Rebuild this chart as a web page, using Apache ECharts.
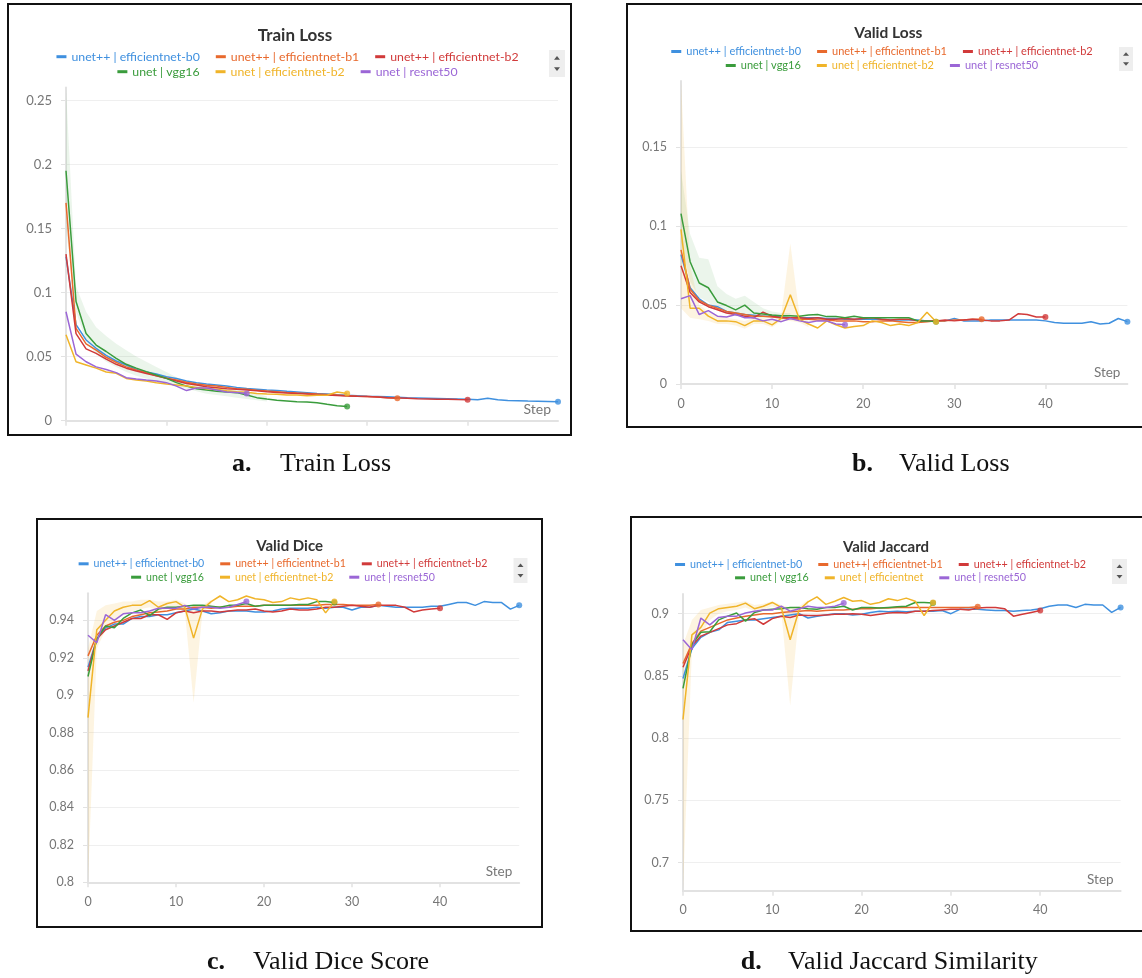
<!DOCTYPE html>
<html><head><meta charset="utf-8">
<script src="https://cdn.jsdelivr.net/npm/echarts@6/dist/echarts.min.js"></script>
<style>
html,body{margin:0;padding:0;background:#fff;width:1142px;height:978px;overflow:hidden;position:relative;}
.p{position:absolute;}
</style>
</head><body>
<div id="pa" class="p" style="left:0;top:0;width:575px;height:490px"></div>
<div id="pb" class="p" style="left:622px;top:0;width:520px;height:490px"></div>
<div id="pc" class="p" style="left:0;top:490px;width:566px;height:488px"></div>
<div id="pd" class="p" style="left:619px;top:490px;width:523px;height:488px"></div>
<script>
// ---------- names / colours ----------
const RUN_NAMES = ['unet++ | efficientnet-b0','unet++ | efficientnet-b1','unet++ | efficientnet-b2','unet | vgg16','unet | efficientnet-b2','unet | resnet50'];
const JACCARD_NAMES = ['unet++ | efficientnet-b0','unet++| efficientnet-b1','unet++ | efficientnet-b2','unet | vgg16','unet | efficientnet','unet | resnet50'];
const COLORS = ['#3f90df','#e8692d','#d13a3a','#3a9c3c','#f0b429','#9b66d6'];

// ---------- tick labels ----------
const STEP_TICKS = [0,10,20,30,40];
const TRAIN_LOSS_TICKS = [0,0.05,0.1,0.15,0.2,0.25];
const VALID_LOSS_TICKS = [0,0.05,0.1,0.15];
const DICE_TICKS = [0.8,0.82,0.84,0.86,0.88,0.9,0.92,0.94];
const JACCARD_TICKS = [0.7,0.75,0.8,0.85,0.9];

// ---------- Train Loss ----------
const trainB0 = [0.128,0.075,0.063,0.0565,0.051,0.0466,0.0435,0.040,0.038,0.0364,0.0343,0.033,0.031,0.0297,0.0286,0.0278,0.027,0.026,0.0252,0.0246,0.024,0.0235,0.0229,0.0224,0.0219,0.0213,0.0208,0.0203,0.0198,0.0195,0.019,0.0188,0.0186,0.0183,0.018,0.0178,0.0176,0.0174,0.0172,0.017,0.0168,0.0163,0.0175,0.0163,0.0157,0.0155,0.0153,0.0152,0.015,0.0148];
const trainB1 = [0.170,0.072,0.060,0.055,0.0495,0.0455,0.042,0.0396,0.0375,0.035,0.0332,0.0317,0.030,0.0286,0.0276,0.027,0.026,0.025,0.0245,0.0238,0.0232,0.0226,0.022,0.0216,0.0213,0.0208,0.0204,0.020,0.0195,0.019,0.0188,0.0185,0.018,0.0175];
const trainB2 = [0.130,0.068,0.056,0.0525,0.048,0.044,0.041,0.0388,0.0368,0.035,0.0332,0.031,0.029,0.0278,0.0265,0.0258,0.025,0.0245,0.024,0.0233,0.0226,0.0221,0.0216,0.0212,0.0208,0.0204,0.020,0.0196,0.0193,0.019,0.0188,0.0185,0.018,0.0178,0.0175,0.0172,0.017,0.0168,0.0168,0.0165,0.0163];
const trainVgg = [0.195,0.093,0.068,0.059,0.054,0.0487,0.044,0.041,0.0383,0.0357,0.033,0.0297,0.027,0.025,0.024,0.023,0.0224,0.0219,0.020,0.018,0.0169,0.016,0.0154,0.0148,0.0146,0.014,0.0128,0.0117,0.011];
const trainEffB2 = [0.067,0.046,0.0435,0.041,0.038,0.037,0.033,0.0317,0.031,0.0297,0.0286,0.0278,0.027,0.026,0.025,0.0245,0.0234,0.0226,0.0222,0.0213,0.0208,0.0206,0.020,0.020,0.0195,0.0198,0.0198,0.0224,0.0212];
const trainRes50 = [0.085,0.052,0.046,0.042,0.040,0.0375,0.0336,0.0325,0.0317,0.031,0.0297,0.027,0.0235,0.0255,0.0255,0.024,0.0224,0.022,0.0213];
const trainVggBandLow  = [0.150,0.085,0.062,0.052,0.046,0.042,0.038,0.035,0.033,0.031,0.029,0.027,0.025,0.023,0.021,0.020,0.019,0.018,0.017,0.016,0.015];
const trainVggBandHigh = [0.259,0.105,0.085,0.073,0.066,0.060,0.055,0.050,0.046,0.042,0.038,0.034,0.031,0.028,0.027,0.026,0.025,0.024,0.023,0.021,0.019];

// ---------- Valid Loss ----------
const validB0 = [0.082,0.061,0.054,0.050,0.049,0.046,0.045,0.044,0.0435,0.043,0.043,0.0425,0.042,0.042,0.042,0.042,0.0415,0.0415,0.041,0.041,0.041,0.041,0.041,0.0405,0.0405,0.0405,0.0405,0.040,0.040,0.040,0.0415,0.040,0.040,0.040,0.0405,0.0405,0.0405,0.0405,0.0405,0.0405,0.040,0.039,0.0385,0.0385,0.0385,0.0395,0.038,0.0385,0.0415,0.0395];
const validB1 = [0.085,0.060,0.053,0.050,0.048,0.046,0.045,0.044,0.043,0.043,0.0425,0.042,0.0415,0.041,0.041,0.0405,0.0405,0.040,0.040,0.040,0.0395,0.0395,0.040,0.040,0.0395,0.039,0.039,0.0395,0.040,0.040,0.0405,0.0405,0.041,0.041];
const validB2 = [0.075,0.058,0.052,0.049,0.047,0.045,0.044,0.043,0.042,0.0455,0.043,0.042,0.042,0.042,0.0415,0.042,0.041,0.041,0.0415,0.041,0.0415,0.042,0.041,0.0405,0.041,0.041,0.040,0.040,0.040,0.0405,0.040,0.0405,0.041,0.0405,0.040,0.040,0.0405,0.0445,0.044,0.0425,0.0425];
const validVgg = [0.108,0.0775,0.064,0.061,0.052,0.0497,0.047,0.050,0.045,0.0444,0.0437,0.0433,0.0433,0.043,0.0437,0.044,0.0427,0.0427,0.042,0.043,0.042,0.042,0.042,0.042,0.042,0.042,0.040,0.040,0.0395];
const validEffB2 = [0.098,0.048,0.048,0.043,0.040,0.040,0.0395,0.037,0.040,0.040,0.0375,0.0415,0.0565,0.041,0.038,0.0355,0.040,0.0375,0.0355,0.0365,0.037,0.040,0.039,0.037,0.038,0.037,0.039,0.0455,0.0395];
const validRes50 = [0.054,0.056,0.044,0.0465,0.043,0.0425,0.044,0.042,0.042,0.040,0.041,0.0395,0.0415,0.040,0.039,0.040,0.040,0.038,0.0375];
const validVggBandLow  = [0.090,0.065,0.055,0.052,0.047,0.045,0.043,0.043,0.042,0.042,0.042,0.041,0.041];
const validVggBandHigh = [0.135,0.095,0.080,0.079,0.062,0.057,0.054,0.056,0.052,0.048,0.046,0.045,0.045];
const validEffBandLow  = [0.048,0.042,0.041,0.040,0.038,0.038,0.037,0.035,0.038,0.038,0.036,0.040,0.040,0.039,0.036];
const validEffBandHigh = [0.191,0.075,0.050,0.046,0.043,0.042,0.041,0.040,0.042,0.042,0.040,0.044,0.089,0.044,0.040];

// ---------- Valid Dice ----------
const diceB0 = [0.915,0.930,0.936,0.938,0.938,0.941,0.942,0.942,0.943,0.943,0.944,0.945,0.946,0.945,0.9435,0.944,0.945,0.945,0.945,0.9445,0.9445,0.945,0.946,0.9465,0.9465,0.9465,0.947,0.9465,0.947,0.947,0.9455,0.947,0.947,0.948,0.9475,0.947,0.947,0.947,0.947,0.9475,0.9475,0.9485,0.9495,0.9495,0.948,0.950,0.9495,0.9495,0.946,0.948];
const diceB1 = [0.921,0.932,0.937,0.939,0.940,0.942,0.943,0.944,0.9445,0.945,0.946,0.946,0.947,0.947,0.9465,0.947,0.947,0.9475,0.9475,0.9475,0.948,0.948,0.948,0.948,0.948,0.948,0.948,0.9485,0.9485,0.9485,0.948,0.948,0.948,0.9485];
const diceB2 = [0.913,0.930,0.935,0.937,0.939,0.941,0.941,0.943,0.943,0.9405,0.944,0.945,0.944,0.945,0.945,0.9445,0.945,0.9455,0.9455,0.946,0.945,0.9445,0.945,0.946,0.9455,0.9455,0.946,0.947,0.947,0.9475,0.948,0.9475,0.947,0.948,0.948,0.948,0.947,0.9445,0.9455,0.946,0.9465];
const diceVgg = [0.910,0.930,0.937,0.936,0.941,0.944,0.9455,0.9425,0.946,0.947,0.947,0.9475,0.948,0.948,0.9475,0.947,0.948,0.948,0.949,0.9475,0.948,0.948,0.948,0.948,0.9485,0.9485,0.950,0.950,0.9495];
const diceEffB2 = [0.888,0.935,0.940,0.945,0.947,0.948,0.948,0.9505,0.947,0.949,0.950,0.947,0.9305,0.946,0.950,0.953,0.950,0.951,0.953,0.9515,0.951,0.9495,0.950,0.952,0.951,0.952,0.951,0.944,0.950];
const diceRes50 = [0.932,0.928,0.943,0.940,0.9435,0.944,0.944,0.945,0.9465,0.9465,0.9465,0.948,0.946,0.947,0.947,0.9465,0.947,0.9485,0.950];
const diceEffBandLow  = [0.800,0.925,0.935,0.940,0.943,0.945,0.946,0.947,0.945,0.946,0.947,0.945,0.896,0.944,0.948];
const diceEffBandHigh = [0.925,0.945,0.948,0.949,0.950,0.950,0.951,0.951,0.950,0.950,0.951,0.949,0.946,0.948,0.951];

// ---------- Valid Jaccard ----------
const jacB0 = [0.848,0.872,0.881,0.885,0.887,0.893,0.894,0.895,0.895,0.896,0.897,0.898,0.899,0.900,0.8965,0.898,0.899,0.900,0.900,0.899,0.8995,0.901,0.902,0.9015,0.902,0.9015,0.902,0.902,0.902,0.9025,0.900,0.9035,0.9035,0.9035,0.903,0.9025,0.9025,0.902,0.9025,0.903,0.904,0.906,0.907,0.907,0.905,0.9075,0.907,0.907,0.901,0.905];
const jacB1 = [0.860,0.876,0.886,0.889,0.892,0.895,0.8965,0.898,0.899,0.900,0.900,0.901,0.9015,0.902,0.9025,0.902,0.9025,0.903,0.903,0.9035,0.904,0.904,0.9045,0.9045,0.905,0.905,0.905,0.905,0.905,0.905,0.905,0.905,0.905,0.9055];
const jacB2 = [0.857,0.874,0.882,0.885,0.888,0.891,0.892,0.895,0.896,0.8915,0.896,0.898,0.897,0.899,0.8985,0.8985,0.899,0.8995,0.8995,0.900,0.8995,0.8985,0.8995,0.9005,0.901,0.9005,0.902,0.902,0.9025,0.903,0.9035,0.9035,0.903,0.9045,0.905,0.905,0.904,0.898,0.8995,0.901,0.9025];
const jacVgg = [0.840,0.875,0.885,0.8855,0.895,0.898,0.9005,0.894,0.901,0.903,0.9035,0.904,0.905,0.905,0.904,0.9035,0.905,0.905,0.906,0.903,0.905,0.905,0.9045,0.905,0.9055,0.906,0.909,0.909,0.9085];
const jacEff = [0.815,0.883,0.889,0.9005,0.904,0.905,0.906,0.9085,0.904,0.906,0.909,0.905,0.879,0.903,0.9095,0.9135,0.9075,0.910,0.913,0.910,0.9105,0.9075,0.909,0.912,0.9105,0.9125,0.910,0.8985,0.909];
const jacRes50 = [0.879,0.871,0.8965,0.891,0.897,0.898,0.898,0.9005,0.902,0.903,0.903,0.906,0.902,0.904,0.906,0.905,0.905,0.906,0.9085];
const jacEffBandLow  = [0.678,0.872,0.882,0.895,0.900,0.902,0.903,0.905,0.902,0.903,0.906,0.902,0.826,0.900,0.906];
const jacEffBandHigh = [0.875,0.895,0.903,0.905,0.907,0.908,0.909,0.910,0.907,0.908,0.910,0.907,0.905,0.906,0.911];

// ---------- builder ----------
const FONT = 'Lato';
const SERIF = '"Liberation Serif", "Times New Roman", serif';
const GREEN_BAND = 'rgba(58,156,60,0.10)';
const YELLOW_BAND = 'rgba(240,180,41,0.14)';
const fmt = v => String(+(+v).toFixed(4));

function bandSeries(b) {
  return {
    type:'custom', silent:true, z:1, clip:true,
    data: b.low.map((v,i)=>[i, v, b.high[i]]),
    encode:{x:0, y:[1,2]},
    renderItem: function(params, api) {
      if (params.dataIndex !== 0) return null;
      const pts = [];
      for (let i = 0; i < b.high.length; i++) pts.push(api.coord([i, b.high[i]]));
      for (let i = b.low.length - 1; i >= 0; i--) pts.push(api.coord([i, b.low[i]]));
      return {type:'polygon', shape:{points:pts}, style:{fill:b.color, stroke:null}};
    }
  };
}

function buildOption(cfg) {
  const series = [];
  cfg.bands.forEach(b => series.push(bandSeries(b)));
  cfg.values.forEach((arr, k) => {
    series.push({type:'line', name:cfg.names[k], data:arr.map((v,i)=>[i,v]), symbol:'none', showSymbol:false, z:3,
      lineStyle:{width:1.5, color:COLORS[k]}, itemStyle:{color:COLORS[k]}});
  });
  cfg.values.forEach((arr, k) => {
    series.push({type:'scatter', data:[[arr.length-1, arr[arr.length-1]]], symbolSize:6, silent:true, z:4,
      itemStyle:{color:COLORS[k]}});
  });
  const legends = [0,1].map(r => ({
    top: cfg.legendRows[r] - 6, left:'center', padding:0, icon:'rect', itemWidth:10, itemHeight:3, itemGap:16,
    selectedMode:false, textStyle:{fontSize:cfg.legendFont, fontFamily:FONT},
    data: cfg.names.slice(r*3, r*3+3).map((n,j)=>({name:n, textStyle:{color:COLORS[r*3+j]}, itemStyle:{color:COLORS[r*3+j]}}))
  }));
  const box = cfg.box, sc = cfg.scroll;
  const cx = sc[0] + sc[2]/2;
  const graphic = [
    {type:'rect', shape:{x:box[0], y:box[1], width:box[2], height:box[3]}, style:{fill:null, stroke:'#111', lineWidth:2}, z:10},
    {type:'rect', shape:{x:sc[0], y:sc[1], width:sc[2], height:sc[3]}, style:{fill:'#eeeeee'}, z:10},
    {type:'polygon', shape:{points:[[cx-3, sc[1]+sc[3]*0.36],[cx+3, sc[1]+sc[3]*0.36],[cx, sc[1]+sc[3]*0.22]]}, style:{fill:'#555'}, z:11},
    {type:'polygon', shape:{points:[[cx-3, sc[1]+sc[3]*0.64],[cx+3, sc[1]+sc[3]*0.64],[cx, sc[1]+sc[3]*0.78]]}, style:{fill:'#555'}, z:11},
    {type:'text', x:cfg.caption.x1, y:cfg.caption.y, style:{text:cfg.caption.label, font:'bold 26px '+SERIF, fill:'#111', verticalAlign:'middle', align:'left'}, z:10},
    {type:'text', x:cfg.caption.x2, y:cfg.caption.y, style:{text:cfg.caption.text, font:'26px '+SERIF, fill:'#111', verticalAlign:'middle', align:'left'}, z:10}
  ];
  const yAxis = {type:'value', min:cfg.yMin, max:cfg.yMax,
    axisLine:{show:true, lineStyle:{color:'#e2e2e2', width:2}},
    axisTick:{show:true, length:5, customValues:cfg.yTicks, lineStyle:{color:'#e2e2e2', width:1}},
    axisLabel:{customValues:cfg.yTicks, color:'#767676', fontSize:cfg.labelFont, fontFamily:FONT, margin:14, formatter:fmt},
    splitLine:{show:true, lineStyle:{color:'#efefef', width:1}}};
  if (cfg.yInterval) yAxis.interval = cfg.yInterval; else yAxis.splitNumber = 5;
  return {
    animation:false,
    textStyle:{fontFamily:FONT},
    title:{text:cfg.title.text, left:cfg.title.x, top:cfg.title.y - cfg.title.size*0.62 + 3, textAlign:'center', padding:0,
      textStyle:{fontSize:cfg.title.size, fontWeight:'bold', color:'#333', fontFamily:FONT}},
    legend:legends,
    grid:{left:cfg.grid[0], top:cfg.grid[1], width:cfg.grid[2], height:cfg.grid[3], containLabel:false, outerBoundsMode:'none'},
    xAxis:{type:'value', min:0, max:49, interval:10,
      axisLine:{show:true, onZero:false, lineStyle:{color:'#e2e2e2', width:2}},
      axisTick:{show:true, length:5, customValues:STEP_TICKS, lineStyle:{color:'#e2e2e2', width:1.5}},
      axisLabel:{show:cfg.showX, customValues:STEP_TICKS, color:'#767676', fontSize:cfg.labelFont, fontFamily:FONT, margin:13},
      splitLine:{show:false},
      name:'Step', nameLocation:'end', nameGap:0,
      nameTextStyle:{color:'#777', fontSize:cfg.labelFont+1, fontFamily:FONT, align:'right', verticalAlign:'bottom', padding:[0,7,4,0]}},
    yAxis:yAxis,
    series:series,
    graphic:graphic
  };
}

const panels = [
  {id:'pa', names:RUN_NAMES, values:[trainB0,trainB1,trainB2,trainVgg,trainEffB2,trainRes50],
   bands:[{low:trainVggBandLow, high:trainVggBandHigh, color:GREEN_BAND}],
   box:[8,4,563,431], scroll:[549,50,16,27], title:{text:'Train Loss', x:295, y:35, size:17},
   legendRows:[56.7,71.7], legendFont:12.3, grid:[66,87.5,492,333.2], yMin:0, yMax:0.26, yInterval:0.05,
   yTicks:TRAIN_LOSS_TICKS, labelFont:13, showX:false,
   caption:{label:'a.', text:'Train Loss', x1:232, x2:280, y:464}},
  {id:'pb', names:RUN_NAMES, values:[validB0,validB1,validB2,validVgg,validEffB2,validRes50],
   bands:[{low:validVggBandLow, high:validVggBandHigh, color:GREEN_BAND},{low:validEffBandLow, high:validEffBandHigh, color:YELLOW_BAND}],
   box:[5,4,540,423], scroll:[497,47,14,24], title:{text:'Valid Loss', x:266.3, y:32, size:15.5},
   legendRows:[52,66], legendFont:11, grid:[59,81,446.4,303], yMin:0, yMax:0.192, yInterval:0.05,
   yTicks:VALID_LOSS_TICKS, labelFont:12.5, showX:true,
   caption:{label:'b.', text:'Valid Loss', x1:230, x2:277, y:464}},
  {id:'pc', names:RUN_NAMES, values:[diceB0,diceB1,diceB2,diceVgg,diceEffB2,diceRes50],
   bands:[{low:diceEffBandLow, high:diceEffBandHigh, color:YELLOW_BAND}],
   box:[37,29,505,408], scroll:[513.5,68,14,25], title:{text:'Valid Dice', x:289.6, y:55, size:15},
   legendRows:[74.3,87.7], legendFont:10.6, grid:[88,103.2,431.2,289.1], yMin:0.8, yMax:0.9545, yInterval:0.02,
   yTicks:DICE_TICKS, labelFont:12.5, showX:true,
   caption:{label:'c.', text:'Valid Dice Score', x1:207, x2:253, y:472}},
  {id:'pd', names:JACCARD_NAMES, values:[jacB0,jacB1,jacB2,jacVgg,jacEff,jacRes50],
   bands:[{low:jacEffBandLow, high:jacEffBandHigh, color:YELLOW_BAND}],
   box:[12,27,540,414], scroll:[493,69,15,25], title:{text:'Valid Jaccard', x:267, y:55.7, size:15},
   legendRows:[75,88.3], legendFont:10.75, grid:[64,104,437.6,296.7], yMin:0.6775, yMax:0.9158, yInterval:null,
   yTicks:JACCARD_TICKS, labelFont:12.5, showX:true,
   caption:{label:'d.', text:'Valid Jaccard Similarity', x1:121.7, x2:169, y:472}}
];

panels.forEach(cfg => {
  const chart = echarts.init(document.getElementById(cfg.id), null, {renderer:'canvas'});
  chart.setOption(buildOption(cfg));
});
</script>
</body></html>
